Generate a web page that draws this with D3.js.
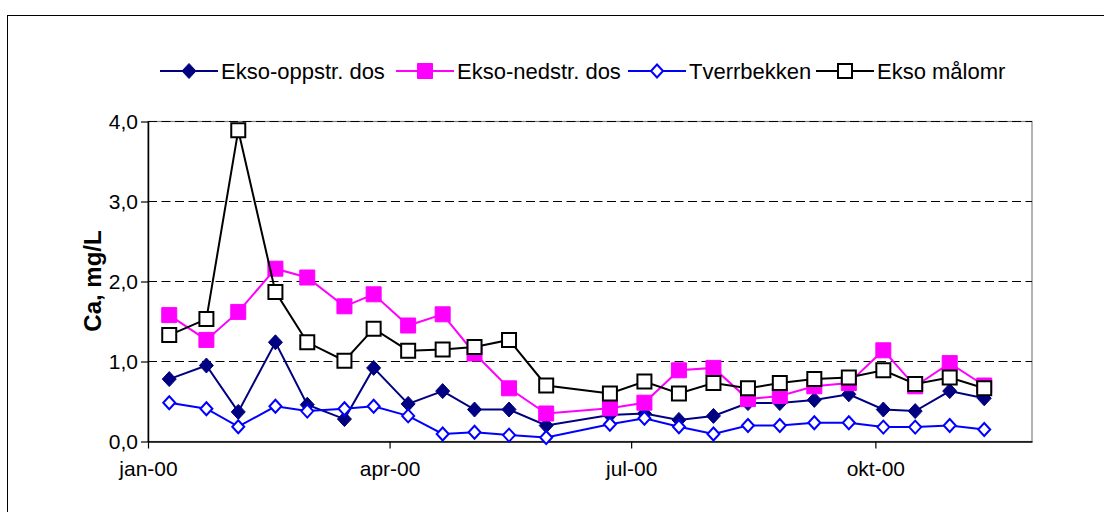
<!DOCTYPE html>
<html><head><meta charset="utf-8">
<script src="https://cdn.jsdelivr.net/npm/d3@7/dist/d3.min.js"></script>
<style>
html,body{margin:0;padding:0;background:#fff;}
svg text{font-family:"Liberation Sans",Arial,sans-serif;}
</style></head>
<body>
<svg id="chart" width="1104" height="512"></svg>
<script>
const dates = ["2000-01-09","2000-01-23","2000-02-04","2000-02-18","2000-03-01","2000-03-15","2000-03-26","2000-04-08","2000-04-21","2000-05-03","2000-05-16","2000-05-30","2000-06-23","2000-07-06","2000-07-19","2000-08-01","2000-08-14","2000-08-26","2000-09-08","2000-09-21","2000-10-04","2000-10-16","2000-10-29","2000-11-11"];
const eksoOppstr = [0.78,0.95,0.37,1.24,0.46,0.28,0.92,0.47,0.63,0.40,0.40,0.20,0.33,0.35,0.27,0.32,0.48,0.48,0.52,0.59,0.40,0.38,0.63,0.54];
const eksoNedstr = [1.58,1.27,1.62,2.16,2.05,1.69,1.84,1.45,1.59,1.10,0.665,0.35,0.415,0.485,0.89,0.92,0.53,0.57,0.69,0.73,1.14,0.69,0.98,0.70];
const tverrbekken = [0.485,0.41,0.185,0.44,0.38,0.41,0.44,0.32,0.094,0.115,0.08,0.05,0.215,0.29,0.185,0.094,0.20,0.20,0.235,0.235,0.18,0.18,0.20,0.15];
const eksoMalomr = [1.33,1.53,3.89,1.87,1.24,1.01,1.41,1.135,1.15,1.18,1.27,0.70,0.60,0.75,0.60,0.73,0.665,0.73,0.78,0.80,0.89,0.72,0.80,0.665];
const seriesNames = ["Ekso-oppstr. dos","Ekso-nedstr. dos","Tverrbekken","Ekso målomr"];
const xTickDates = ["2000-01-01","2000-04-01","2000-07-01","2000-10-01"];
const xTickLabels = ["jan-00","apr-00","jul-00","okt-00"];
const yTickValues = [0,1,2,3,4];
const yTickLabels = ["0,0","1,0","2,0","3,0","4,0"];
const yTitle = "Ca, mg/L";

const parse = d3.utcParse("%Y-%m-%d");
const svg = d3.select("#chart");
const L = 148, R = 1032, T = 121.5, B = 441.5;
const x = d3.scaleUtc().domain([parse("2000-01-01"), parse("2000-11-29")]).range([L, R]);
const y = d3.scaleLinear().domain([0,4]).range([B, T]);

// outer frame
svg.append("rect").attr("x",7.5).attr("y",15.5).attr("width",1120).attr("height",520)
  .attr("fill","none").attr("stroke","#000").attr("stroke-width",1);

// plot area border
svg.append("rect").attr("x",L).attr("y",T).attr("width",R-L).attr("height",B-T)
  .attr("fill","none").attr("stroke","#808080").attr("stroke-width",1.2);

// gridlines
svg.append("g").selectAll("line").data(yTickValues.filter(v=>v>0)).join("line")
  .attr("x1",L).attr("x2",R).attr("y1",d=>y(d)).attr("y2",d=>y(d))
  .attr("stroke","#000").attr("stroke-width",1).attr("stroke-dasharray","9,4.5");

// axes
const yAxis = svg.append("g").attr("transform",`translate(${L},0)`)
  .call(d3.axisLeft(y).tickValues(yTickValues).tickFormat((d,i)=>yTickLabels[i]).tickSize(7).tickSizeOuter(0).tickPadding(3));
const xAxis = svg.append("g").attr("transform",`translate(0,${B})`)
  .call(d3.axisBottom(x).tickValues(xTickDates.map(parse)).tickFormat((d,i)=>xTickLabels[i]).tickSize(7).tickSizeOuter(0).tickPadding(13));
[yAxis,xAxis].forEach(g=>{
  g.selectAll("path").attr("stroke","#000").attr("stroke-width",1.5);
  g.selectAll("line").attr("stroke","#000").attr("stroke-width",1.2);
  g.selectAll("text").attr("font-size",21).attr("fill","#000").attr("font-family","Liberation Sans, Arial, sans-serif");
});

// y title
svg.append("text").attr("transform","translate(101,281) rotate(-90)")
  .attr("text-anchor","middle").attr("font-size",24).attr("font-weight","bold").text(yTitle);

// markers
function diamondPath(w,h){return `M0,${-h}L${w},0L0,${h}L${-w},0Z`;}
function squarePath(s){return `M${-s},${-s}H${s}V${s}H${-s}Z`;}
const series = [
  {name:seriesNames[0], values:eksoOppstr, color:"#000080", path:diamondPath(7,7.5), fill:"#000080", stroke:"#000080", sw:1},
  {name:seriesNames[1], values:eksoNedstr, color:"#FF00FF", path:squarePath(7.5), fill:"#FF00FF", stroke:"#FF00FF", sw:1},
  {name:seriesNames[2], values:tverrbekken, color:"#0000FF", path:diamondPath(6,6.5), fill:"#fff", stroke:"#0000FF", sw:2},
  {name:seriesNames[3], values:eksoMalomr, color:"#000", path:squarePath(7), fill:"#fff", stroke:"#000", sw:2}
];
const line = d3.line().x(d=>x(d.date)).y(d=>y(d.v));
series.forEach(s=>{
  const pts = dates.map((d,i)=>({date:parse(d), v:s.values[i]}));
  const g = svg.append("g");
  g.append("path").datum(pts).attr("d",line).attr("fill","none").attr("stroke",s.color).attr("stroke-width",2);
  g.selectAll("path.m").data(pts).join("path").attr("class","m")
    .attr("transform",d=>`translate(${x(d.date)},${y(d.v)})`).attr("d",s.path)
    .attr("fill",s.fill).attr("stroke",s.stroke).attr("stroke-width",s.sw);
});

// legend
const legX = [160, 396, 628, 816];
const legY = 71;
series.forEach((s,i)=>{
  const g = svg.append("g").attr("transform",`translate(${legX[i]},${legY})`);
  g.append("line").attr("x1",0).attr("x2",58).attr("y1",0).attr("y2",0).attr("stroke",s.color).attr("stroke-width",2);
  g.append("path").attr("transform","translate(29,0)").attr("d",s.path)
    .attr("fill",s.fill).attr("stroke",s.stroke).attr("stroke-width",s.sw);
  g.append("text").attr("x",61).attr("y",0).attr("dy","0.35em").attr("font-size",22).text(s.name);
});
</script>
</body></html>
